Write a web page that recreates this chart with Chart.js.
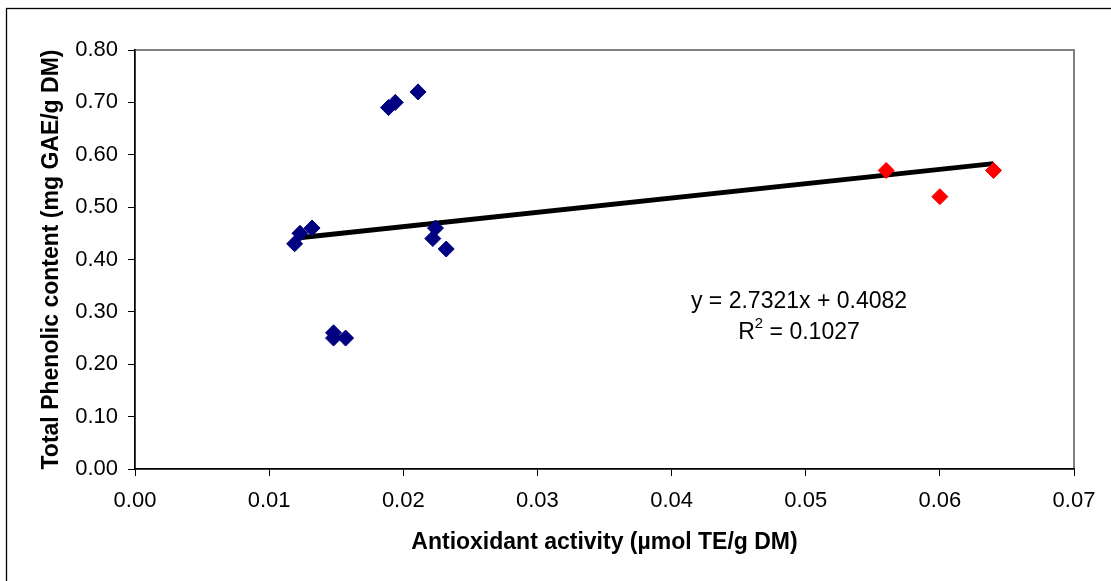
<!DOCTYPE html>
<html>
<head>
<meta charset="utf-8">
<script src="https://cdn.jsdelivr.net/npm/chart.js@4"></script>
<style>
  body { margin: 0; background: #fff; }
  canvas { display: block; }
</style>
</head>
<body>
<canvas id="chart" width="1111" height="581"></canvas>
<script>
// Puntos azules (muestras)
const blueX = [0.0119, 0.0123, 0.0132, 0.0189, 0.0194, 0.0211, 0.0224, 0.0222, 0.0232, 0.0148, 0.0148, 0.0157];
const blueY = [0.43, 0.45, 0.46, 0.69, 0.70, 0.72, 0.46, 0.44, 0.42, 0.26, 0.25, 0.25];

// Puntos rojos
const redX = [0.056, 0.060, 0.064];
const redY = [0.57, 0.52, 0.57];

// Recta de regresion que aparece en el grafico
const slope = 2.7321;
const intercept = 0.4082;
const eqText = "y = 2.7321x + 0.4082";
const r2Text = "0.1027";

const xTitle = "Antioxidant activity (\u00b5mol TE/g DM)";
const yTitle = "Total Phenolic content (mg GAE/g DM)";

const font = "'Liberation Sans', Arial, sans-serif";

function toPoints(xs, ys) {
    return xs.map((x, i) => ({ x: x, y: ys[i] }));
}

const allX = blueX.concat(redX);
const xMin = Math.min(...allX);
const xMax = Math.max(...allX);
const trendPoints = [
    { x: xMin, y: slope * xMin + intercept },
    { x: xMax, y: slope * xMax + intercept }
];

// Marco exterior y borde gris del area de trazado
const framePlugin = {
    id: 'frame',
    beforeDraw(chart) {
        const ctx = chart.ctx;
        const a = chart.chartArea;
        ctx.save();
        ctx.fillStyle = '#fff';
        ctx.fillRect(0, 0, chart.width, chart.height);
        ctx.strokeStyle = '#000';
        ctx.lineWidth = 1.3;
        ctx.strokeRect(6.5, 8.5, 1200, 700);
        ctx.strokeStyle = '#808080';
        ctx.lineWidth = 2;
        ctx.strokeRect(a.left, a.top, a.right - a.left, a.bottom - a.top);
        ctx.restore();
    }
};

// Texto de la ecuacion y R2
const eqPlugin = {
    id: 'ecuacion',
    afterDatasetsDraw(chart) {
        const ctx = chart.ctx;
        const cx = chart.scales.x.getPixelForValue(0.0495);
        const y1 = chart.scales.y.getPixelForValue(0.32);
        const y2 = chart.scales.y.getPixelForValue(0.26);
        ctx.save();
        ctx.fillStyle = '#000';
        ctx.textBaseline = 'middle';
        ctx.textAlign = 'center';
        ctx.font = "23px " + font;
        ctx.fillText(eqText, cx, y1);

        // R² con superindice
        const rest = " = " + r2Text;
        const wR = ctx.measureText("R").width;
        ctx.font = "15px " + font;
        const w2 = ctx.measureText("2").width;
        ctx.font = "23px " + font;
        const wRest = ctx.measureText(rest).width;
        let x = cx - (wR + w2 + wRest) / 2;
        ctx.textAlign = 'left';
        ctx.fillText("R", x, y2);
        x += wR;
        ctx.font = "15px " + font;
        ctx.fillText("2", x, y2 - 9);
        x += w2;
        ctx.font = "23px " + font;
        ctx.fillText(rest, x, y2);
        ctx.restore();
    }
};

const ctx = document.getElementById('chart');

const chart = new Chart(ctx, {
    type: 'scatter',
    data: {
        datasets: [
            {
                label: 'Trend',
                type: 'line',
                data: trendPoints,
                borderColor: '#000',
                borderWidth: 5,
                pointRadius: 0,
                fill: false,
                order: 2
            },
            {
                label: 'Azul',
                data: toPoints(blueX, blueY),
                pointStyle: 'rectRot',
                pointRadius: 8,
                backgroundColor: '#000080',
                borderColor: '#000080',
                borderWidth: 1,
                order: 1
            },
            {
                label: 'Rojo',
                data: toPoints(redX, redY),
                pointStyle: 'rectRot',
                pointRadius: 8,
                backgroundColor: '#ff0000',
                borderColor: '#ff0000',
                borderWidth: 1,
                order: 1
            }
        ]
    },
    options: {
        responsive: false,
        animation: false,
        layout: { padding: { left: 0, top: 50, right: 37, bottom: 0 } },
        plugins: {
            legend: { display: false },
            tooltip: { enabled: false }
        },
        scales: {
            x: {
                type: 'linear',
                min: 0,
                max: 0.07,
                afterFit(scale) { scale.height = 112; },
                border: { color: '#000', width: 1.5 },
                grid: { drawOnChartArea: false, tickLength: 7, color: '#000', tickColor: '#000' },
                ticks: {
                    stepSize: 0.01,
                    padding: 12,
                    color: '#000',
                    font: { family: font, size: 22 },
                    maxRotation: 0,
                    callback: v => v.toFixed(2)
                },
                title: {
                    display: true,
                    text: xTitle,
                    color: '#000',
                    font: { family: font, size: 23, weight: 'bold' },
                    padding: { top: 0, bottom: 25 }
                }
            },
            y: {
                min: 0,
                max: 0.8,
                afterFit(scale) { scale.width = 135; },
                border: { color: '#000', width: 1.5 },
                grid: { drawOnChartArea: false, tickLength: 7, color: '#000', tickColor: '#000' },
                ticks: {
                    stepSize: 0.1,
                    padding: 10,
                    color: '#000',
                    font: { family: font, size: 22 },
                    callback: v => v.toFixed(2)
                },
                title: {
                    display: true,
                    text: yTitle,
                    color: '#000',
                    font: { family: font, size: 23, weight: 'bold' },
                    padding: { top: 38, bottom: 0 }
                }
            }
        }
    },
    plugins: [framePlugin, eqPlugin]
});
</script>
</body>
</html>
